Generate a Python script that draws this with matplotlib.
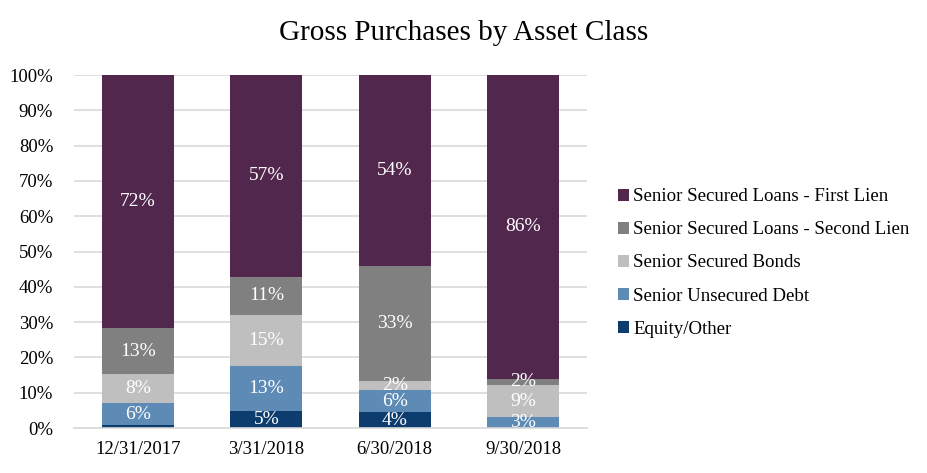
import numpy as np
import matplotlib.pyplot as plt
from matplotlib.patches import Patch

plt.rcParams["font.family"] = ["Liberation Serif", "DejaVu Serif"]

dates = ["12/31/2017", "3/31/2018", "6/30/2018", "9/30/2018"]
series_names = [
    "Equity/Other",
    "Senior Unsecured Debt",
    "Senior Secured Bonds",
    "Senior Secured Loans - Second Lien",
    "Senior Secured Loans - First Lien",
]
equity = [0.8, 4.8, 4.5, 0.0]
unsecured = [6.2, 12.8, 6.3, 3.1]
bonds = [8.3, 14.4, 2.5, 9.1]
second_lien = [13.0, 10.8, 32.6, 1.7]
first_lien = [71.7, 57.2, 54.1, 86.1]
labels = [
    ["", "6%", "8%", "13%", "72%"],
    ["5%", "13%", "15%", "11%", "57%"],
    ["4%", "6%", "2%", "33%", "54%"],
    ["", "3%", "9%", "2%", "86%"],
]
colors = ["#0D3D6E", "#5D8BB5", "#BFBFBF", "#808080", "#52274D"]


def main():
    fig = plt.figure(figsize=(9.28, 4.73), dpi=100)
    ax = fig.add_axes([0.0797, 0.0951, 0.553, 0.7463])

    data = [equity, unsecured, bonds, second_lien, first_lien]
    x = np.arange(len(dates))
    bottom = np.zeros(len(dates))
    for i, vals in enumerate(data):
        vals = np.array(vals)
        ax.bar(x, vals, bottom=bottom, width=0.56, color=colors[i], zorder=2)
        for j in range(len(dates)):
            txt = labels[j][i]
            if txt:
                ax.text(x[j], bottom[j] + vals[j] / 2, txt, ha="center", va="center",
                        color="white", fontsize=14, zorder=3)
        bottom += vals

    ax.set_xlim(-0.5, 3.5)
    ax.set_ylim(0, 100)
    ax.set_yticks(np.arange(0, 101, 10))
    ax.set_yticklabels(["{}%".format(v) for v in range(0, 101, 10)])
    ax.set_xticks(x)
    ax.set_xticklabels(dates)
    ax.tick_params(axis="both", length=0, labelsize=13.5)
    ax.tick_params(axis="y", pad=15)
    ax.tick_params(axis="x", pad=9)
    ax.yaxis.grid(True, color="#D9D9D9", linewidth=1.2, zorder=0)
    for s in ["top", "right", "left"]:
        ax.spines[s].set_visible(False)
    ax.spines["bottom"].set_color("#D9D9D9")
    ax.spines["bottom"].set_linewidth(1.2)

    fig.text(0.5, 0.93, "Gross Purchases by Asset Class", ha="center", va="center", fontsize=21)

    handles = [Patch(facecolor=colors[i]) for i in range(4, -1, -1)]
    names = [series_names[i] for i in range(4, -1, -1)]
    fig.legend(handles, names, loc="center left", bbox_to_anchor=(0.6475, 0.444),
               frameon=False, fontsize=13.6, handlelength=0.6, handleheight=0.6,
               handletextpad=0.2, labelspacing=0.85)

    fig.savefig("out.png", dpi=100)


if __name__ == "__main__":
    main()
